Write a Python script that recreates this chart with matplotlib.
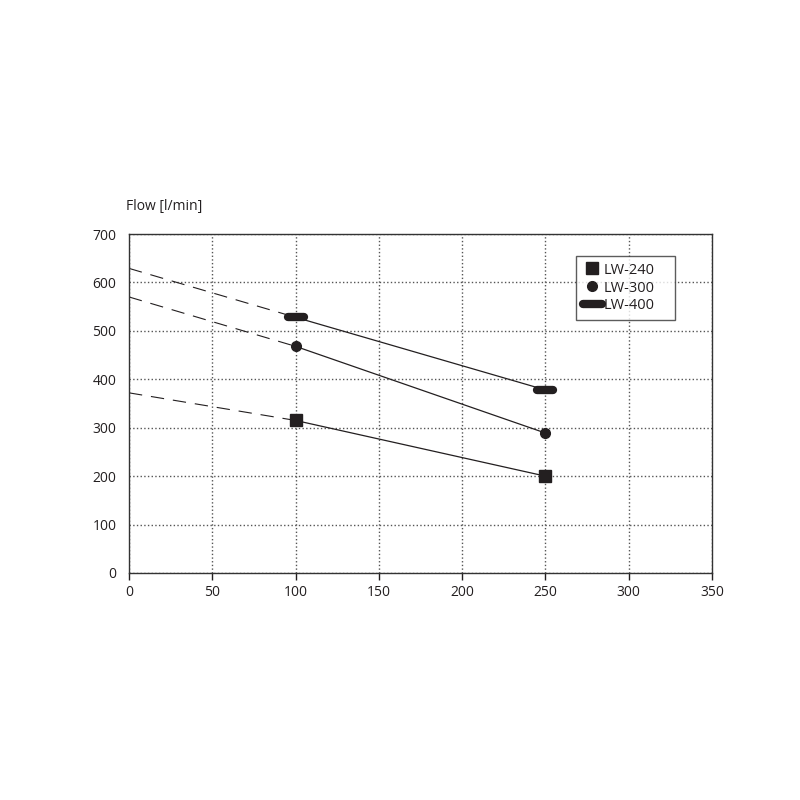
import matplotlib
matplotlib.use('Agg')
import matplotlib.pyplot as plt
from matplotlib.lines import Line2D
from matplotlib.markers import MarkerStyle

# values
pump_x = [100, 250]
lw240 = [315, 200]
lw300 = [468, 289]
lw400 = [528, 378]
# dashed extrapolation back to zero pressure
ext_x = [0, 100]
lw240_ext = [372, 315]
lw300_ext = [570, 468]
lw400_ext = [629, 528]

x_ticks = [0, 50, 100, 150, 200, 250, 300, 350]
y_ticks = [0, 100, 200, 300, 400, 500, 600, 700]

plt.rcParams['font.family'] = ['Open Sans', 'DejaVu Sans']
INK = '#231f20'

fig = plt.figure(figsize=(8, 8), dpi=100)
ax = fig.add_axes([0.16125, 0.28375, 0.72875, 0.42375])

# dashed extensions
for ys in (lw240_ext, lw300_ext, lw400_ext):
    ax.plot(ext_x, ys, color=INK, lw=0.8, ls=(0, (12, 8)), zorder=2)

# solid lines
for ys in (lw240, lw300, lw400):
    ax.plot(pump_x, ys, color=INK, lw=0.9, zorder=2)

bar = MarkerStyle('_', capstyle='round')
ax.plot(pump_x, lw240, ls='none', marker='s', ms=8, color=INK, zorder=3)
ax.plot(pump_x, lw300, ls='none', marker='o', ms=7, color=INK, zorder=3)
ax.plot(pump_x, lw400, ls='none', marker=bar, ms=11, mew=6, color=INK, zorder=3)

ax.set_xlim(0, 350)
ax.set_ylim(0, 700)
ax.set_xticks(x_ticks)
ax.set_yticks(y_ticks)
ax.grid(True, color='#555555', ls=':', lw=1.0)
ax.set_axisbelow(True)
for s in ax.spines.values():
    s.set_color('#333333')
    s.set_linewidth(1.0)
ax.tick_params(axis='x', length=5, width=1, color=INK, labelsize=10, labelcolor=INK, pad=4)
ax.tick_params(axis='y', length=0, labelsize=10, labelcolor=INK, pad=9)

fig.text(0.158, 0.737, 'Flow [l/min]', fontsize=10, color=INK, ha='left', va='baseline')

handles = [
    Line2D([], [], ls='none', marker='s', ms=8, color=INK),
    Line2D([], [], ls='none', marker='o', ms=7, color=INK),
    Line2D([], [], color=INK, lw=6, solid_capstyle='round'),
]
leg = ax.legend(handles, ['LW-240', 'LW-300', 'LW-400'], loc='upper left',
                bbox_to_anchor=(0.767, 0.935, 0.17, 0.0), mode='expand',
                fontsize=10.5, frameon=True,
                fancybox=False, handlelength=1.3, handletextpad=0.15,
                labelspacing=0.2, borderpad=0.45, borderaxespad=0)
leg.get_frame().set_edgecolor('#333333')
leg.get_frame().set_linewidth(1.0)
for t in leg.get_texts():
    t.set_color(INK)

plt.savefig('out.png', dpi=100)
plt.close()
